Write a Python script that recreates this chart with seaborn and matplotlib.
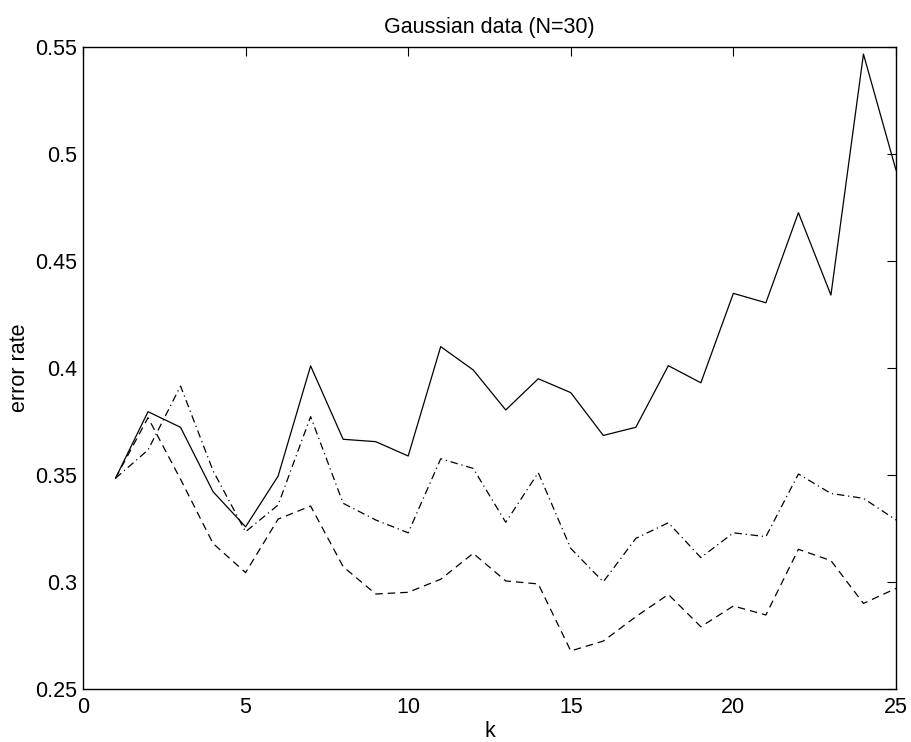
import matplotlib
matplotlib.use("Agg")
import matplotlib.pyplot as plt
import seaborn as sns
import pandas as pd

k = list(range(1, 26))
solid = [0.3485, 0.3796, 0.3723, 0.3422, 0.3258, 0.3495, 0.4010, 0.3667, 0.3656, 0.3589,
         0.4100, 0.3991, 0.3804, 0.3950, 0.3885, 0.3685, 0.3723, 0.4011, 0.3931, 0.4349,
         0.4305, 0.4726, 0.4341, 0.5467, 0.4925]
dashdot = [0.3485, 0.3617, 0.3916, 0.3520, 0.3235, 0.3360, 0.3773, 0.3368, 0.3290, 0.3230,
           0.3576, 0.3531, 0.3279, 0.3511, 0.3157, 0.3001, 0.3204, 0.3277, 0.3114, 0.3230,
           0.3212, 0.3505, 0.3414, 0.3391, 0.3290]
dashed = [0.3485, 0.3768, 0.3480, 0.3180, 0.3044, 0.3294, 0.3355, 0.3072, 0.2944, 0.2952,
          0.3013, 0.3134, 0.3005, 0.2991, 0.2678, 0.2724, 0.2838, 0.2942, 0.2791, 0.2888,
          0.2846, 0.3153, 0.3100, 0.2900, 0.2970]
xticks = [0, 5, 10, 15, 20, 25]
yticks = [0.25, 0.3, 0.35, 0.4, 0.45, 0.5, 0.55]
ytick_labels = ["0.25", "0.3", "0.35", "0.4", "0.45", "0.5", "0.55"]

df = pd.concat([
    pd.DataFrame({"k": k, "error rate": solid, "series": "solid"}),
    pd.DataFrame({"k": k, "error rate": dashdot, "series": "dashdot"}),
    pd.DataFrame({"k": k, "error rate": dashed, "series": "dashed"}),
])

sns.set_style("white")
plt.rcParams["font.family"] = ["Liberation Sans", "DejaVu Sans"]
plt.rcParams["text.color"] = "black"
plt.rcParams["axes.labelcolor"] = "black"
plt.rcParams["xtick.color"] = "black"
plt.rcParams["ytick.color"] = "black"
FS = 15.5

fig = plt.figure(figsize=(9.11, 7.42), dpi=100)
ax = fig.add_axes([0.0911, 0.0714, 0.8924, 0.8652])

sns.lineplot(data=df, x="k", y="error rate", style="series",
             dashes={"solid": "", "dashdot": (6, 3, 1, 3), "dashed": (6, 4)},
             color="black", linewidth=0.9, legend=False, ax=ax, sort=False)

ax.set_xlim(0, 25)
ax.set_ylim(0.25, 0.55)
ax.set_xticks(xticks)
ax.set_xticklabels([str(t) for t in xticks], fontsize=FS)
ax.set_yticks(yticks)
ax.set_yticklabels(ytick_labels, fontsize=FS)
ax.tick_params(axis="both", direction="in", top=True, right=True, length=6.5,
               width=0.8, labelsize=FS, colors="black")
ax.tick_params(axis="x", pad=6)
ax.tick_params(axis="y", pad=4)
for s in ax.spines.values():
    s.set_visible(True)
    s.set_color("black")
    s.set_linewidth(1.0)
ax.set_xlabel("k", fontsize=FS, labelpad=2, color="black")
ax.set_ylabel("error rate", fontsize=FS, labelpad=4, color="black")
ax.set_title("Gaussian data (N=30)", fontsize=FS, pad=10, color="black")

fig.savefig("out.png", dpi=100)
